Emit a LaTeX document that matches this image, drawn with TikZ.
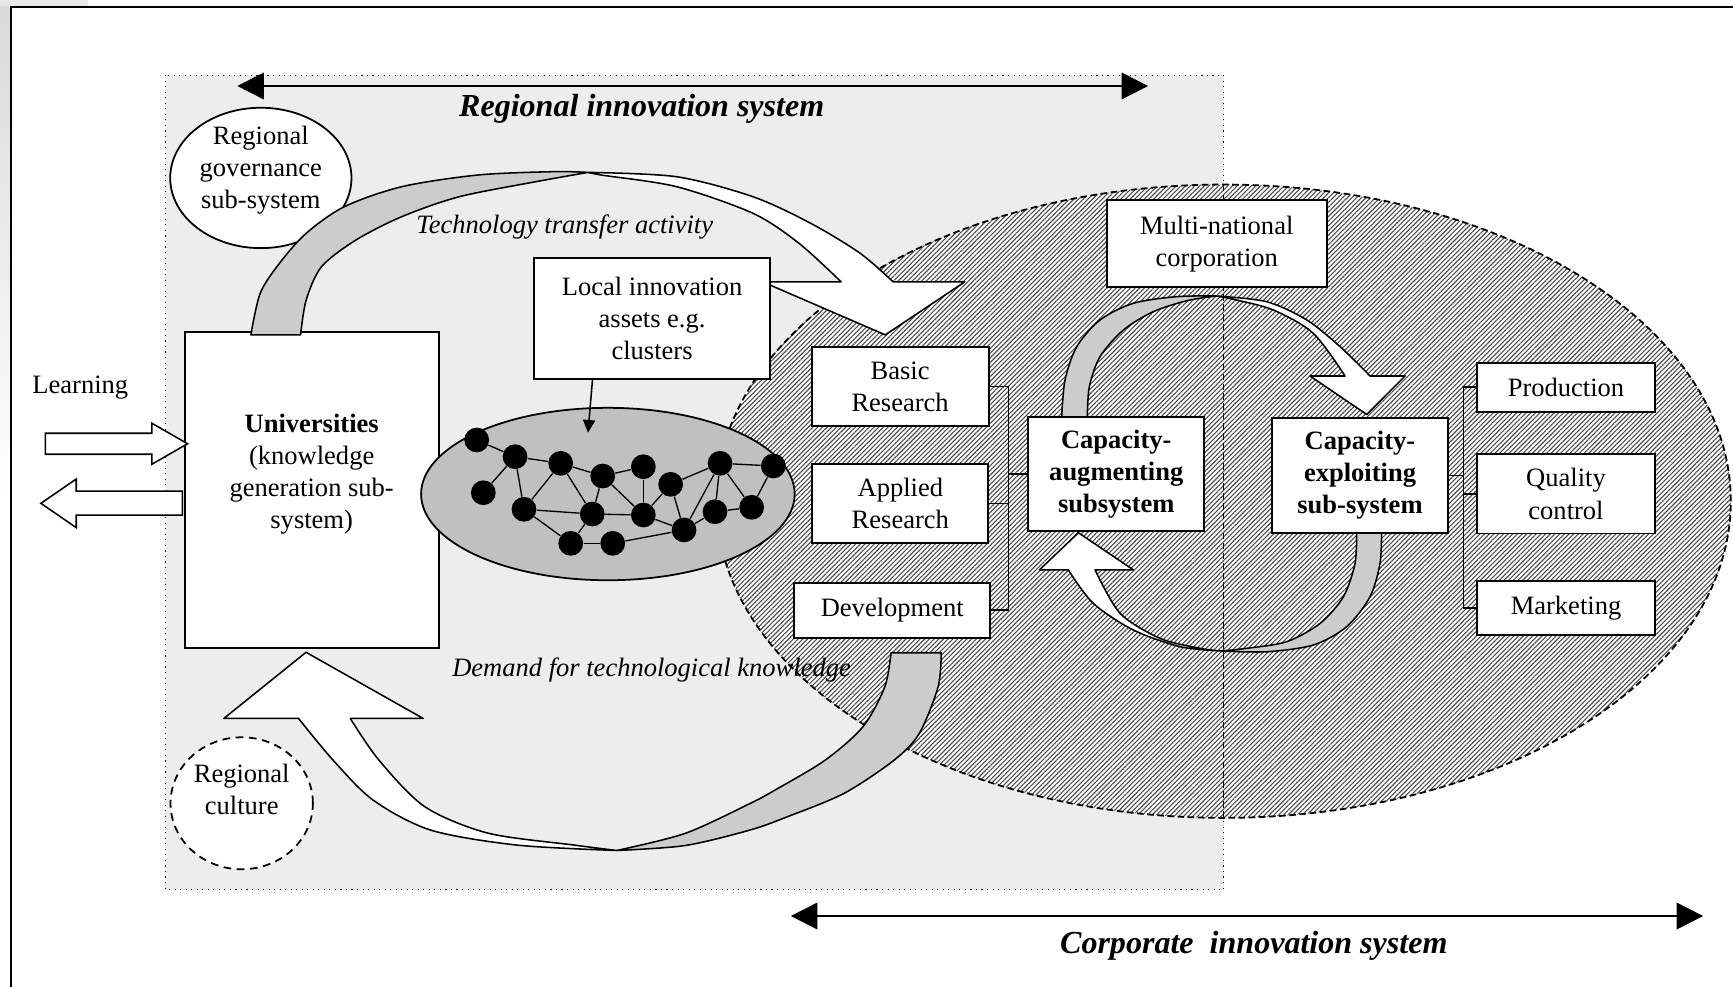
\documentclass[tikz,border=0pt]{standalone}
\usepackage{fontspec}
\setmainfont{Liberation Serif}
\usetikzlibrary{arrows.meta,shapes.geometric,patterns.meta,calc}
\definecolor{rgbg}{HTML}{EDEDED}
\definecolor{clg}{HTML}{C0C0C0}
\definecolor{bandg}{HTML}{CCCCCC}
\begin{document}
\begin{tikzpicture}[x=0.5pt,y=-0.5pt,
  every node/.style={font=\fontsize{12}{14.5}\selectfont},
  box/.style={draw,line width=0.9pt,fill=white,inner sep=0pt,align=center},
  bbox/.style={box,font=\fontsize{12}{14.5}\selectfont\bfseries},
  txt/.style={inner sep=0pt,align=center},
  itxt/.style={inner sep=0pt,align=center,font=\fontsize{12}{14.5}\selectfont\itshape},
  band/.style={draw,line width=0.7pt,fill=bandg,line join=round},
  wband/.style={draw,line width=0.7pt,fill=white,line join=round},
  dotnode/.style={circle,fill=black,minimum size=11.2pt,inner sep=0pt},
  titletext/.style={inner sep=0pt,font=\fontsize{14.5}{17}\selectfont\bfseries\itshape},
  span/.style={line width=0.8pt,{Triangle[length=12pt,width=12pt]}-{Triangle[length=12pt,width=12pt]}},
  wire/.style={line width=0.7pt},
  netline/.style={line width=0.6pt}
]
\useasboundingbox (0,0) rectangle (1568,893);
% scan margin
\shade[top color=gray!30,bottom color=white] (0,0) rectangle (9,450);
\fill[gray!18] (0,0) rectangle (80,5);
% outer frame
\draw[line width=0.9pt] (10,910) -- (10,6) -- (1590,6);

% regional innovation system area
\draw[fill=rgbg,dotted,line width=0.5pt] (150,68) rectangle (1107,805);

% corporate ellipse (hatched)
\draw[dash pattern=on 3pt off 1.6pt,line width=0.8pt,preaction={fill=white},
  pattern={Lines[angle=45,distance=1.5pt,line width=0.5pt]},pattern color=black!70]
  (1107,453.5) ellipse [x radius=229.5pt,y radius=143.25pt];

% ellipses of the regional side
\node[draw,ellipse,line width=0.8pt,fill=white,minimum width=82pt,minimum height=63.5pt,inner sep=0pt] (gov) at (236,161) {};
\node[txt] (govt) at (236,154) {Regional\\governance\\sub-system};
\node[draw,ellipse,dash pattern=on 3.5pt off 2.5pt,line width=0.8pt,fill=white,minimum width=64.4pt,minimum height=59.7pt,inner sep=0pt] (cult) at (218.7,726.8) {};
\node[txt] (cultt) at (218.7,714) {Regional\\culture};

% span arrows and titles
\coordinate (risL) at (214.7,77.8);
\coordinate (risR) at (1038.8,77.8);
\draw[span] (risL) -- (risR);
\node[titletext] (ristitle) at (580.6,98.5) {Regional innovation system};
\coordinate (cisL) at (715.5,828.8);
\coordinate (cisR) at (1541,828.8);
\draw[span] (cisL) -- (cisR);
\node[titletext] (cistitle) at (1134.4,855.6) {Corporate\ \ innovation system};

% universities
\node[box,minimum width=115pt,minimum height=143pt] (univ) at (282,443) {};
\node[txt] (univt) at (282,429) {\textbf{Universities}\\(knowledge\\generation sub-\\system)};

% learning
\node[txt] (learn) at (72.7,350.4) {Learning};
\draw[line width=0.7pt,fill=white] (41,392) -- (137.5,392) -- (137.5,383) -- (169.7,401.5) -- (137.5,420) -- (137.5,411) -- (41,411) -- cycle;
\draw[line width=0.7pt,fill=white] (165,444.3) -- (69,444.3) -- (69,433.4) -- (37,455.4) -- (69,477.4) -- (69,466) -- (165,466) -- cycle;

% technology transfer arc
\filldraw[band] plot[smooth] coordinates {(227,303) (235.4,265.4) (252.8,238.3) (277,211.1) (311.6,187) (363.6,168.9) (432.9,158.3) (502.1,155.3) (532,156)}
  -- plot[smooth] coordinates {(532,156) (484.8,164.4) (415.5,178) (363.6,196) (322,217.2) (290.9,241.3) (277,271.5) (272,303)} -- cycle;
\filldraw[wband] plot[smooth] coordinates {(532,156) (612.1,159.9) (681.3,178) (733.4,202) (778.3,229.2) (808,255)}
  -- (873,255) -- (801,303) -- (690,255) -- (761,255)
  -- plot[smooth] coordinates {(761,255) (723,220.2) (681.3,193) (612.1,168.9) (545,158.5) (532,156)} -- cycle;
\node[itxt] (tta) at (511,205.5) {Technology transfer activity};

% demand arc
\filldraw[band] plot[smooth] coordinates {(851.6,590.6) (848.8,621.3) (831.8,663.5) (809.1,687.7) (763.7,717.8) (712.6,738.9) (678.6,751) (620,765) (558,769.5)}
  -- plot[smooth] coordinates {(558,769.5) (620,754) (678.6,727) (701.3,714.8) (746.7,687.7) (780.8,657.5) (800.6,621.3) (806.2,590.6)} -- cycle;
\filldraw[wband] plot[smooth] coordinates {(558,769.5) (467.5,764.6) (389.5,751) (337.6,723.9) (301.3,687.7) (270.1,650)}
  -- (202.6,650) -- (276.9,590.2) -- (382.8,650) -- (316.9,650)
  -- plot[smooth] coordinates {(316.9,650) (342.8,687.7) (384.4,729.9) (441.5,753.8) (519.4,764.6) (558,769.5)} -- cycle;
\node[itxt] (dtk) at (589.5,606) {Demand for technological knowledge};

% cluster
\node[draw,ellipse,fill=clg,line width=0.8pt,minimum width=169pt,minimum height=78pt,inner sep=0pt] (cluster) at (550,447) {};
\node[dotnode] (n1) at (431.3,398.1) {};
\node[dotnode] (n2) at (466.0,413.2) {};
\node[dotnode] (n3) at (507.3,419.2) {};
\node[dotnode] (n4) at (545.3,430.7) {};
\node[dotnode] (n5) at (582.1,422.3) {};
\node[dotnode] (n6) at (606.8,438.2) {};
\node[dotnode] (n7) at (651.5,419.2) {};
\node[dotnode] (n8) at (699.7,421.6) {};
\node[dotnode] (n9) at (437.3,445.8) {};
\node[dotnode] (n10) at (474.1,460.8) {};
\node[dotnode] (n11) at (535.9,465.1) {};
\node[dotnode] (n12) at (582.1,466.0) {};
\node[dotnode] (n13) at (618.9,479.5) {};
\node[dotnode] (n14) at (646.9,463.0) {};
\node[dotnode] (n15) at (680.1,459.0) {};
\node[dotnode] (n16) at (516.4,491.6) {};
\node[dotnode] (n17) at (554.4,491.6) {};
\foreach \a/\b in {1/2,2/3,2/9,2/10,3/10,3/4,3/11,4/5,4/11,4/12,5/12,6/7,6/13,6/12,10/11,11/12,10/16,11/16,16/17,17/13,12/13,13/7,13/14,7/14,7/8,7/15,14/15,8/15}
  \draw[netline] (n\a) -- (n\b);

% local innovation assets
\node[box,minimum width=107pt,minimum height=55pt] (local) at (590,288) {Local innovation\\assets e.g.\\clusters};
\coordinate (clpt) at (532,391.5);
\draw[wire,-{Triangle[length=5.75pt,width=5.5pt]}] ($(local.south west)!0.25!(local.south east)$) -- (clpt);

% capacity cycle arrows
\filldraw[band] plot[smooth] coordinates {(960.6,377.5) (963.6,343.8) (974.2,313.7) (995.3,289.5) (1025.4,274.4) (1064.7,268.4) (1100,267.8)}
  -- plot[smooth] coordinates {(1100,267.8) (1073.8,272.1) (1043.5,282) (1016.4,298.6) (995.3,322.7) (985.6,349.9) (983.8,377.5)} -- cycle;
\filldraw[wband] plot[smooth] coordinates {(1100,267.8) (1146.1,273) (1182.3,289.5) (1212.5,313.7) (1239.6,340.2)}
  -- (1271.3,340.2) -- (1236.6,375) -- (1185.3,340.2) -- (1217,340.2)
  -- plot[smooth] coordinates {(1217,340.2) (1188.3,301.6) (1152.1,280.5) (1115.9,270.8) (1100,267.8)} -- cycle;
\filldraw[band] plot[smooth] coordinates {(1250.1,481) (1248.6,509.7) (1239.6,539.9) (1218.5,567) (1188.3,583.6) (1146.1,589.7) (1105,589)}
  -- plot[smooth] coordinates {(1105,589) (1128,586.6) (1164.2,580.6) (1194.4,564) (1215.5,539.9) (1226,509.7) (1227.5,481)} -- cycle;
\filldraw[wband] plot[smooth] coordinates {(1105,589) (1067.7,585.1) (1025.4,570) (989.2,545.9) (966.6,515.7)}
  -- (940.4,515.7) -- (975.7,482) -- (1025.5,515.7) -- (990.8,515.7)
  -- plot[smooth] coordinates {(990.8,515.7) (1013.4,554.9) (1049.6,577.6) (1085.8,586.6) (1105,589)} -- cycle;

% divider
\draw[dash pattern=on 3pt off 1.5pt,line width=0.7pt] (1107,167) -- (1107,740);

% corporate boxes
\node[box,minimum width=99.5pt,minimum height=39.5pt] (mnc) at (1100.9,220.5) {Multi-national\\corporation};
\node[box,minimum width=80pt,minimum height=36pt] (basic) at (814.4,349.6) {Basic\\Research};
\node[box,minimum width=79.7pt,minimum height=35.5pt] (applied) at (814.6,455.5) {Applied\\Research};
\node[box,minimum width=88.5pt,minimum height=25pt] (devel) at (807.3,552.1) {Development};
\node[bbox,minimum width=79.7pt,minimum height=51.3pt] (capaug) at (1010,428.9) {Capacity-\\augmenting\\subsystem};
\node[bbox,minimum width=80pt,minimum height=51.7pt] (capexp) at (1230.5,430.3) {Capacity-\\exploiting\\sub-system};
\node[box,minimum width=80.4pt,minimum height=22.2pt] (prod) at (1416.9,350.4) {Production};
\node[box,minimum width=80.4pt,minimum height=35.8pt] (qual) at (1416.9,446.9) {Quality\\control};
\node[box,minimum width=80.4pt,minimum height=24.5pt] (mkt) at (1416.9,550.2) {Marketing};

% brackets
\coordinate (brL) at (912.3,450);
\draw[wire] (basic.east) -- (basic.east -| brL) -- (devel.east -| brL) -- (devel.east);
\draw[wire] (applied.east) -- (applied.east -| brL);
\draw[wire] (capaug.west) -- (capaug.west -| brL);
\coordinate (brR) at (1324.1,450);
\draw[wire] (prod.west) -- (prod.west -| brR) -- (mkt.west -| brR) -- (mkt.west);
\draw[wire] (qual.west) -- (qual.west -| brR);
\draw[wire] (capexp.east) -- (capexp.east -| brR);
\end{tikzpicture}
\end{document}
